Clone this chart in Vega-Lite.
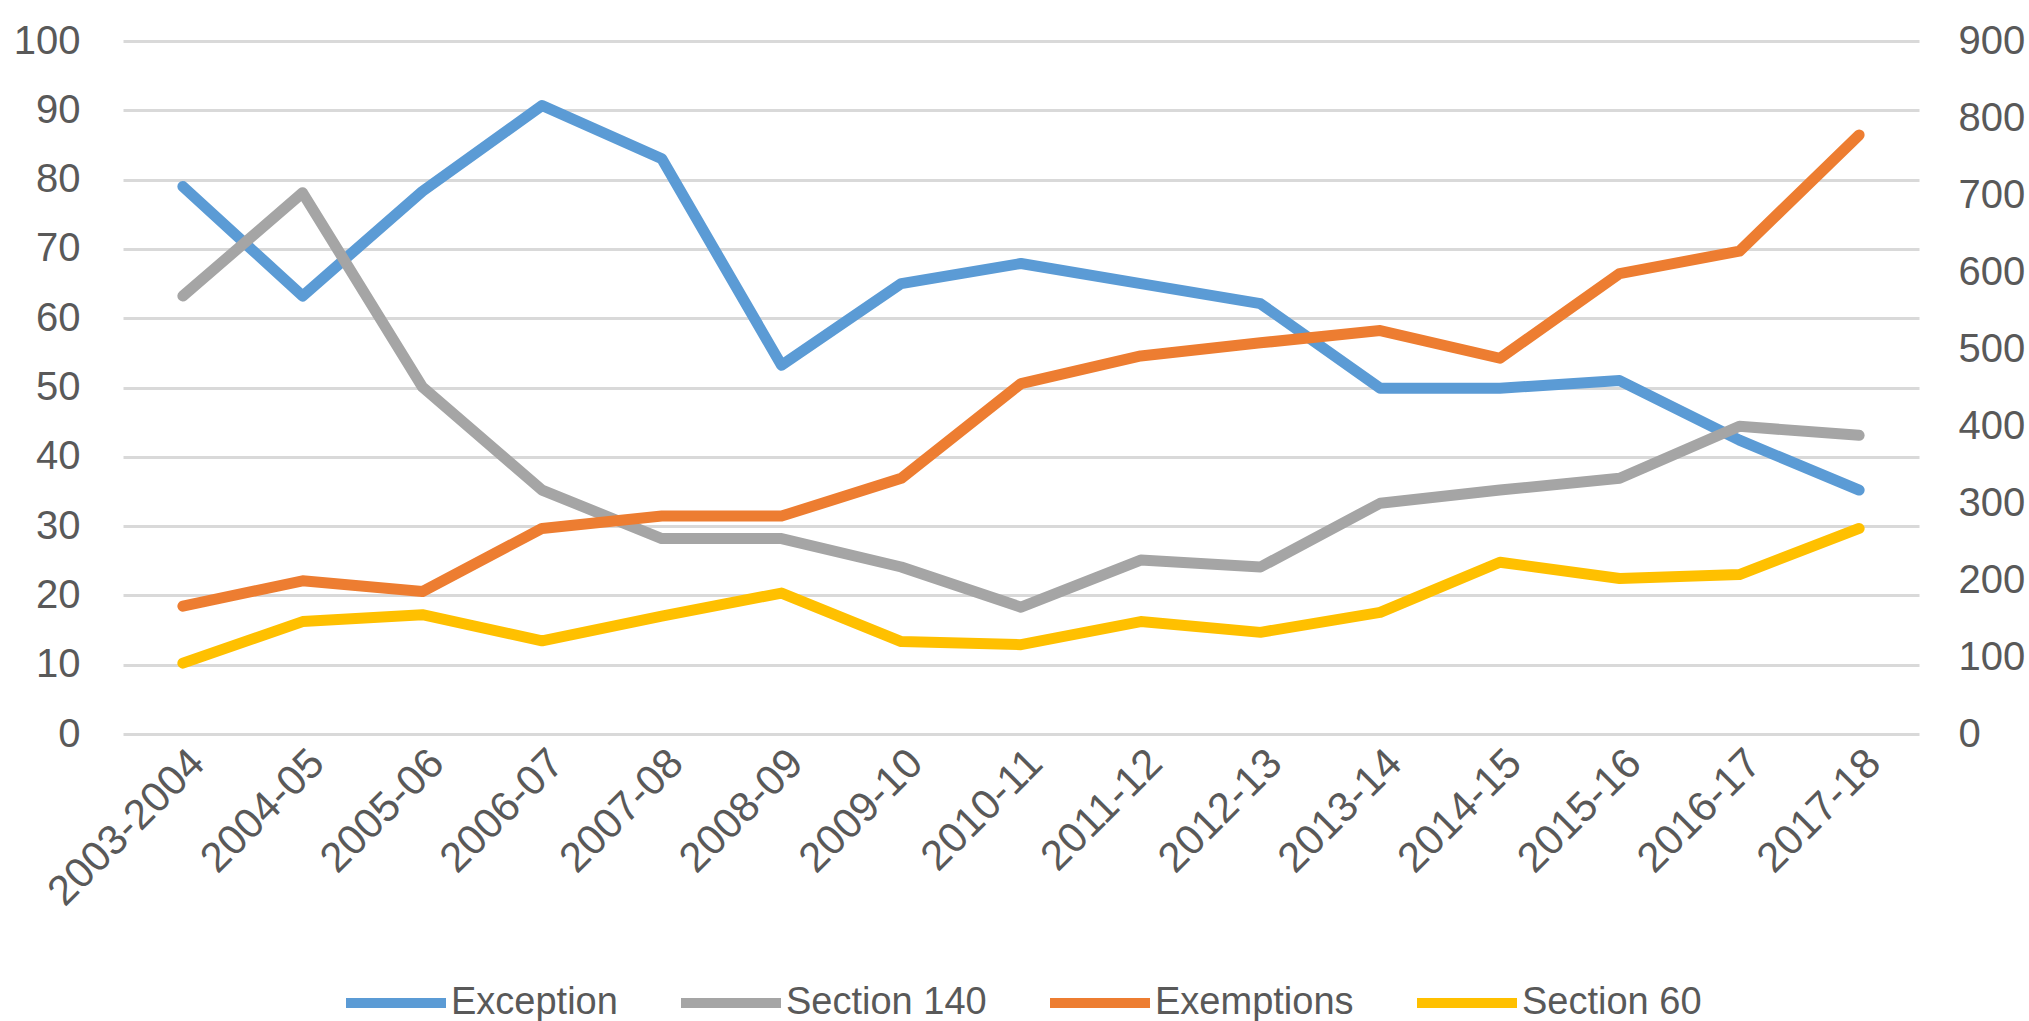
{
  "$schema": "https://vega.github.io/schema/vega-lite/v6.json",
  "width": 1796,
  "height": 693,
  "autosize": "none",
  "padding": {"left": 123, "top": 41, "right": 110, "bottom": 287},
  "background": "white",
  "config": {
    "view": {"stroke": null},
    "font": "Liberation Sans",
    "axis": {"labelColor": "#595959", "labelFontSize": 40, "domain": false, "ticks": false, "title": null, "labelLimit": 500}
  },
  "datasets": {
    "rows": [
      {"year": "2003-2004", "series": "Exception", "value": 79.0},
      {"year": "2004-05", "series": "Exception", "value": 63.2},
      {"year": "2005-06", "series": "Exception", "value": 78.3},
      {"year": "2006-07", "series": "Exception", "value": 90.7},
      {"year": "2007-08", "series": "Exception", "value": 83.0},
      {"year": "2008-09", "series": "Exception", "value": 53.2},
      {"year": "2009-10", "series": "Exception", "value": 65.0},
      {"year": "2010-11", "series": "Exception", "value": 67.9},
      {"year": "2011-12", "series": "Exception", "value": 65.0},
      {"year": "2012-13", "series": "Exception", "value": 62.1},
      {"year": "2013-14", "series": "Exception", "value": 49.9},
      {"year": "2014-15", "series": "Exception", "value": 49.9},
      {"year": "2015-16", "series": "Exception", "value": 51.0},
      {"year": "2016-17", "series": "Exception", "value": 42.4},
      {"year": "2017-18", "series": "Exception", "value": 35.2},
      {"year": "2003-2004", "series": "Section 140", "value": 63.2},
      {"year": "2004-05", "series": "Section 140", "value": 78.1},
      {"year": "2005-06", "series": "Section 140", "value": 50.1},
      {"year": "2006-07", "series": "Section 140", "value": 35.2},
      {"year": "2007-08", "series": "Section 140", "value": 28.2},
      {"year": "2008-09", "series": "Section 140", "value": 28.2},
      {"year": "2009-10", "series": "Section 140", "value": 24.1},
      {"year": "2010-11", "series": "Section 140", "value": 18.3},
      {"year": "2011-12", "series": "Section 140", "value": 25.1},
      {"year": "2012-13", "series": "Section 140", "value": 24.1},
      {"year": "2013-14", "series": "Section 140", "value": 33.3},
      {"year": "2014-15", "series": "Section 140", "value": 35.2},
      {"year": "2015-16", "series": "Section 140", "value": 36.9},
      {"year": "2016-17", "series": "Section 140", "value": 44.4},
      {"year": "2017-18", "series": "Section 140", "value": 43.1},
      {"year": "2003-2004", "series": "Exemptions", "value": 166},
      {"year": "2004-05", "series": "Exemptions", "value": 199},
      {"year": "2005-06", "series": "Exemptions", "value": 185},
      {"year": "2006-07", "series": "Exemptions", "value": 267},
      {"year": "2007-08", "series": "Exemptions", "value": 283},
      {"year": "2008-09", "series": "Exemptions", "value": 283},
      {"year": "2009-10", "series": "Exemptions", "value": 332},
      {"year": "2010-11", "series": "Exemptions", "value": 455},
      {"year": "2011-12", "series": "Exemptions", "value": 491},
      {"year": "2012-13", "series": "Exemptions", "value": 508},
      {"year": "2013-14", "series": "Exemptions", "value": 524},
      {"year": "2014-15", "series": "Exemptions", "value": 488},
      {"year": "2015-16", "series": "Exemptions", "value": 598},
      {"year": "2016-17", "series": "Exemptions", "value": 627},
      {"year": "2017-18", "series": "Exemptions", "value": 778},
      {"year": "2003-2004", "series": "Section 60", "value": 92},
      {"year": "2004-05", "series": "Section 60", "value": 146},
      {"year": "2005-06", "series": "Section 60", "value": 155},
      {"year": "2006-07", "series": "Section 60", "value": 121},
      {"year": "2007-08", "series": "Section 60", "value": 153},
      {"year": "2008-09", "series": "Section 60", "value": 183},
      {"year": "2009-10", "series": "Section 60", "value": 120},
      {"year": "2010-11", "series": "Section 60", "value": 116},
      {"year": "2011-12", "series": "Section 60", "value": 146},
      {"year": "2012-13", "series": "Section 60", "value": 132},
      {"year": "2013-14", "series": "Section 60", "value": 158},
      {"year": "2014-15", "series": "Section 60", "value": 223},
      {"year": "2015-16", "series": "Section 60", "value": 202},
      {"year": "2016-17", "series": "Section 60", "value": 207},
      {"year": "2017-18", "series": "Section 60", "value": 267}
    ]
  },
  "data": {"name": "rows"},
  "layer": [
    {
      "transform": [{"filter": {"field": "series", "oneOf": ["Exception", "Section 140"]}}],
      "mark": {"type": "line", "strokeWidth": 11, "strokeCap": "round", "strokeJoin": "round"},
      "encoding": {
        "x": {
          "field": "year", "type": "ordinal",
          "scale": {"type": "point", "padding": 0.5, "domain": ["2003-2004","2004-05","2005-06","2006-07","2007-08","2008-09","2009-10","2010-11","2011-12","2012-13","2013-14","2014-15","2015-16","2016-17","2017-18"]},
          "axis": {"labelAngle": -45, "labelAlign": "right", "labelBaseline": "top", "labelPadding": 8, "labelFontSize": 42, "grid": false}
        },
        "y": {
          "field": "value", "type": "quantitative",
          "scale": {"domain": [0, 100], "nice": false},
          "axis": {"orient": "left", "values": [0,10,20,30,40,50,60,70,80,90,100], "grid": true, "gridColor": "#d9d9d9", "gridWidth": 3, "labelPadding": 43}
        },
        "color": {
          "field": "series", "type": "nominal",
          "scale": {"domain": ["Exception", "Section 140", "Exemptions", "Section 60"], "range": ["#5b9bd5", "#a5a5a5", "#ed7d31", "#ffc000"]},
          "legend": {
            "title": null, "orient": "none", "direction": "horizontal", "legendX": 218, "legendY": 907,
            "symbolType": "stroke", "symbolSize": 10000, "symbolStrokeWidth": 10,
            "labelFontSize": 38, "labelColor": "#595959", "labelOffset": 0, "columnPadding": 43, "labelLimit": 500
          }
        }
      }
    },
    {
      "transform": [{"filter": {"field": "series", "oneOf": ["Exemptions", "Section 60"]}}],
      "mark": {"type": "line", "strokeWidth": 11, "strokeCap": "round", "strokeJoin": "round"},
      "encoding": {
        "x": {
          "field": "year", "type": "ordinal",
          "scale": {"type": "point", "padding": 0.5, "domain": ["2003-2004","2004-05","2005-06","2006-07","2007-08","2008-09","2009-10","2010-11","2011-12","2012-13","2013-14","2014-15","2015-16","2016-17","2017-18"]}
        },
        "y": {
          "field": "value", "type": "quantitative",
          "scale": {"domain": [0, 900], "nice": false},
          "axis": {"orient": "right", "values": [0,100,200,300,400,500,600,700,800,900], "grid": false, "labelPadding": 39}
        },
        "color": {"field": "series", "type": "nominal"}
      }
    }
  ],
  "resolve": {"scale": {"y": "independent"}}
}
